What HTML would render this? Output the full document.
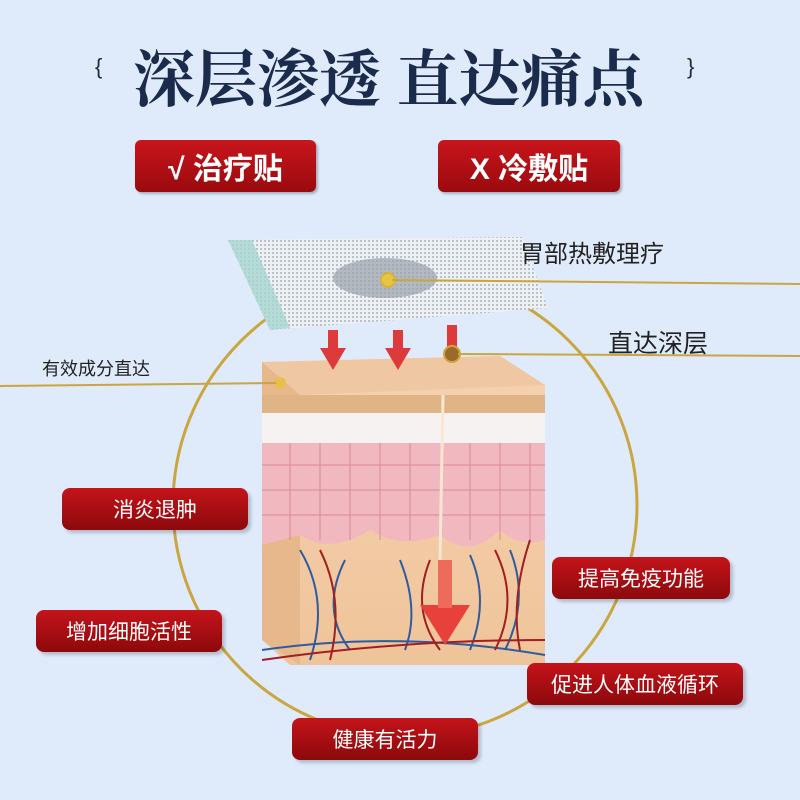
<!DOCTYPE html>
<html><head><meta charset="utf-8"><style>
body{margin:0;width:800px;height:800px;background:#dfeafb;overflow:hidden;position:relative;font-family:"Liberation Sans","Noto Sans CJK SC",sans-serif}
.t{position:absolute;white-space:nowrap}
.btn{position:absolute;background:linear-gradient(#c8161c,#9a0a0e);border-radius:6px;color:#fff;font-weight:bold;display:flex;align-items:center;justify-content:center;box-shadow:2px 2px 2px rgba(0,0,0,.25)}
.lab{position:absolute;background:linear-gradient(#c4141a,#8c090c);border-radius:8px;color:#fff;font-size:21px;display:flex;align-items:center;justify-content:center;box-shadow:3px 3px 3px rgba(0,0,0,.2)}
</style></head><body>
<svg width="800" height="800" style="position:absolute;left:0;top:0">
<defs>
<pattern id="m" width="4" height="4" patternUnits="userSpaceOnUse"><rect width="4" height="4" fill="#eef1f4"/><rect width="2" height="2" fill="#b9c0c8"/></pattern>
<linearGradient id="sk" x1="0" y1="0" x2="0" y2="1"><stop offset="0" stop-color="#f6d2b0"/><stop offset="1" stop-color="#efc49a"/></linearGradient>
</defs>
<circle cx="405" cy="505" r="232" fill="none" stroke="#c9a640" stroke-width="3"/>
<polygon points="262,362 500,356 545,385 545,665 290,665 262,640" fill="url(#sk)"/>
<polygon points="262,362 500,356 545,385 300,395" fill="#efc7a3"/>
<polygon points="262,362 300,395 300,665 262,640" fill="#e6b88c"/>
<rect x="262" y="395" width="283" height="18" fill="#e0b585"/>
<rect x="262" y="413" width="283" height="30" fill="#f6f2f2"/>
<path d="M262,443 L545,443 L545,540 Q520,548 500,530 Q470,560 440,535 Q400,550 370,530 Q330,555 300,535 L262,545 Z" fill="#f1b8c0"/>
<g stroke="#d98a93" stroke-width="1" fill="none">
<path d="M262,465 H545 M262,490 H545 M262,515 H545"/>
<path d="M290,443 V540 M320,443 V540 M350,443 V540 M380,443 V540 M410,443 V540 M470,443 V540 M500,443 V540 M530,443 V540"/>
</g>
<line x1="443" y1="395" x2="440" y2="560" stroke="#f9e7d3" stroke-width="3"/>
<g stroke="#2f5c9e" stroke-width="2" fill="none"><path d="M300,550 Q330,600 310,660 M345,560 Q320,610 350,650 M400,560 Q420,610 405,650 M470,555 Q490,600 470,650 M510,550 Q530,600 505,650"/><path d="M262,650 Q400,630 545,655"/></g>
<g stroke="#a11f20" stroke-width="2" fill="none"><path d="M320,550 Q345,600 330,660 M430,560 Q410,610 440,650 M495,550 Q520,600 495,650 M530,540 Q510,600 520,650"/><path d="M262,660 Q400,640 545,640"/></g>
<polygon points="420,605 470,605 445,645" fill="#e8413c"/>
<rect x="438" y="560" width="14" height="48" fill="#ee6a5a"/>
<polygon points="228,240 522,237 548,308 270,330" fill="url(#m)"/>
<polygon points="228,240 252,240 290,328 270,330" fill="#a5d6cf" opacity=".8"/>
<ellipse cx="385" cy="278" rx="52" ry="20" fill="#9aa1ab" opacity=".7"/>
<circle cx="388" cy="280" r="7" fill="#e8c443" stroke="#d8b03a" stroke-width="2"/>
<g fill="#dd3b3b"><rect x="328" y="330" width="10" height="22"/><polygon points="320,348 346,348 333,370"/>
<rect x="393" y="330" width="10" height="22"/><polygon points="385,348 411,348 398,370"/>
<rect x="447" y="325" width="10" height="22"/></g>
<circle cx="452" cy="354" r="8" fill="#9a6a2a" stroke="#d4a43a" stroke-width="2"/>
<circle cx="280" cy="383" r="6" fill="#e6c04a"/>
<g stroke="#c9a640" stroke-width="2" fill="none">
<line x1="392" y1="280" x2="800" y2="284"/>
<line x1="458" y1="354" x2="800" y2="356"/>
<line x1="0" y1="386" x2="276" y2="383"/>
</g>
</svg>
<div class="t" style="left:95px;top:54px;font-size:22px;color:#1a2a4a">{</div>
<div class="t" style="left:687px;top:54px;font-size:22px;color:#1a2a4a">}</div>
<div class="t" style="left:133px;top:30px;font-size:62px;font-weight:bold;color:#1b2b4c;font-family:'Noto Serif CJK SC',serif;letter-spacing:0px">深层渗透 直达痛点</div>
<div class="btn" style="left:135px;top:140px;width:181px;height:52px;font-size:30px">√ 治疗贴</div>
<div class="btn" style="left:438px;top:140px;width:182px;height:52px;font-size:30px">X 冷敷贴</div>
<div class="t" style="left:520px;top:234px;font-size:24px;color:#222">胃部热敷理疗</div>
<div class="t" style="left:608px;top:324px;font-size:25px;color:#222">直达深层</div>
<div class="t" style="left:42px;top:355px;font-size:18px;color:#222">有效成分直达</div>
<div class="lab" style="left:62px;top:488px;width:186px;height:42px">消炎退肿</div>
<div class="lab" style="left:36px;top:610px;width:186px;height:42px">增加细胞活性</div>
<div class="lab" style="left:292px;top:718px;width:186px;height:42px">健康有活力</div>
<div class="lab" style="left:552px;top:557px;width:178px;height:42px">提高免疫功能</div>
<div class="lab" style="left:527px;top:663px;width:216px;height:42px">促进人体血液循环</div>
</body></html>
